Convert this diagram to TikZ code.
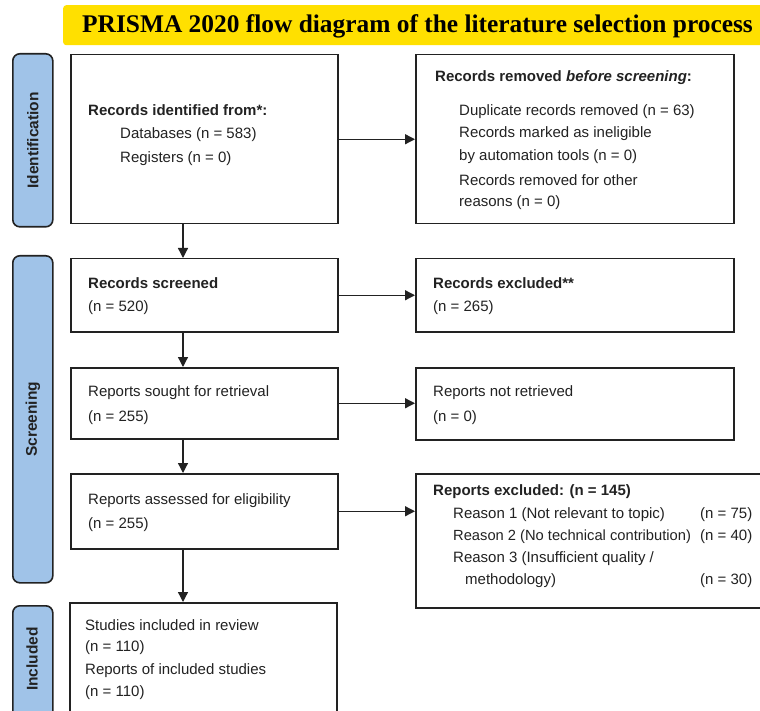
\documentclass[tikz,border=0pt]{standalone}
\usepackage{fontspec}
\setmainfont{Liberation Sans}
\newfontfamily\titlefont{Liberation Serif}
\usetikzlibrary{arrows.meta}
\definecolor{banner}{RGB}{255,224,0}
\definecolor{stagefill}{RGB}{160,195,232}
\definecolor{ink}{RGB}{34,34,34}
\tikzset{
  box/.style={draw=ink, line width=1.5pt, fill=white, anchor=north west, inner sep=0pt},
  stagebar/.style={draw=ink, line width=1.6pt, fill=stagefill, rounded corners=7pt, anchor=north west, inner sep=0pt},
  stagelabel/.style={rotate=90, font=\fontsize{15.5}{18}\selectfont\bfseries, text=ink},
  ln/.style={anchor=west, inner sep=0pt, font=\fontsize{15}{18}\selectfont, text=ink},
  hd/.style={ln, font=\fontsize{15}{18}\selectfont\bfseries},
  arr/.style={draw=ink, line width=1.3pt, -{Triangle[length=10pt,width=10pt]}}
}
\begin{document}
\begin{tikzpicture}[x=1pt,y=-1pt]
\useasboundingbox (0,0) rectangle (760,711);
\clip (0,0) rectangle (760,711);

% title banner
\node[fill=banner, rounded corners=3pt, anchor=north west, minimum width=710pt, minimum height=40pt, inner sep=0pt] (banner) at (63,5) {};
\node[anchor=west, inner sep=0pt, font=\titlefont\fontsize{25.4}{28}\selectfont\bfseries] (title) at (82,26) {PRISMA 2020 flow diagram of the literature selection process};

% stage bars
\node[stagebar, minimum width=40pt, minimum height=173pt] (sid) at (12,53) {};
\node[stagelabel] (lid) at (sid.center) {Identification};
\node[stagebar, minimum width=40pt, minimum height=327pt] (sscr) at (12,255) {};
\node[stagelabel] (lscr) at (sscr.center) {Screening};
\node[stagebar, minimum width=40pt, minimum height=130pt] (sinc) at (12,605) {};
\node[stagelabel] (linc) at (32,659) {Included};

% left column
\node[box, minimum width=267pt, minimum height=169pt] (ident) at (70,54) {};
\node[box, minimum width=267pt, minimum height=73pt] (scr) at (70,258) {};
\node[box, minimum width=267pt, minimum height=71pt] (sought) at (70,367) {};
\node[box, minimum width=267pt, minimum height=75pt] (assess) at (70,473) {};
\node[box, minimum width=267pt, minimum height=130pt] (incl) at (69,602) {};

% right column
\node[box, minimum width=318pt, minimum height=169pt] (removed) at (415,54) {};
\node[box, minimum width=318pt, minimum height=73pt] (excl) at (415,258) {};
\node[box, minimum width=318pt, minimum height=72pt] (notret) at (415,367) {};
\node[box, minimum width=380pt, minimum height=134pt] (repexcl) at (415,473) {};

% texts, left column
\node[hd] (t1) at (88,110) {Records identified from*:};
\node[ln] (t2) at (120,135) {Databases (n = 583)};
\node[ln] (t3) at (120,159) {Registers (n = 0)};

\node[hd] (t4) at (88,283) {Records screened};
\node[ln] (t5) at (88,308) {(n = 520)};

\node[ln] (t6) at (88,393) {Reports sought for retrieval};
\node[ln] (t7) at (88,418) {(n = 255)};

\node[ln] (t8) at (88,501) {Reports assessed for eligibility};
\node[ln] (t9) at (88,525) {(n = 255)};

\node[ln] (t10) at (85,625) {Studies included in review};
\node[ln] (t11) at (85,648) {(n = 110)};
\node[ln] (t12) at (85,671) {Reports of included studies};
\node[ln] (t13) at (85,693) {(n = 110)};

% texts, right column
\node[hd] (u1) at (435,78) {Records removed \textit{before screening}:};
\node[ln] (u2) at (459,112) {Duplicate records removed (n = 63)};
\node[ln] (u3) at (459,134) {Records marked as ineligible};
\node[ln] (u4) at (459,157) {by automation tools (n = 0)};
\node[ln] (u5) at (459,180) {Records removed for other};
\node[ln] (u6) at (459,203) {reasons (n = 0)};

\node[hd] (u7) at (433,283) {Records excluded**};
\node[ln] (u8) at (433,308) {(n = 265)};

\node[ln] (u9) at (433,393) {Reports not retrieved};
\node[ln] (u10) at (433,418) {(n = 0)};

\node[hd] (u11) at (433,492) {Reports excluded: (n = 145)};
\node[ln] (u12) at (453,515) {Reason 1 (Not relevant to topic)};
\node[ln, font=\fontsize{14.7}{18}\selectfont] (u13) at (453,537) {Reason 2 (No technical contribution)};
\node[ln] (u14) at (453,559) {Reason 3 (Insufficient quality /};
\node[ln] (u15) at (465,581) {methodology)};
\node[ln] (n1) at (700,515) {(n = 75)};
\node[ln] (n2) at (700,537) {(n = 40)};
\node[ln] (n3) at (700,581) {(n = 30)};

% vertical connectors
\coordinate (col) at (183,0);
\draw[arr] (ident.south -| col) -- (scr.north -| col);
\draw[arr] (scr.south -| col) -- (sought.north -| col);
\draw[arr] (sought.south -| col) -- (assess.north -| col);
\draw[arr] (assess.south -| col) -- (incl.north -| col);

% horizontal connectors
\draw[arr] (ident.east) -- (removed.west |- ident.east);
\draw[arr] (scr.east) -- (excl.west |- scr.east);
\draw[arr] (sought.east) -- (notret.west |- sought.east);
\draw[arr] (assess.east) -- (repexcl.west |- assess.east);
\end{tikzpicture}
\end{document}
